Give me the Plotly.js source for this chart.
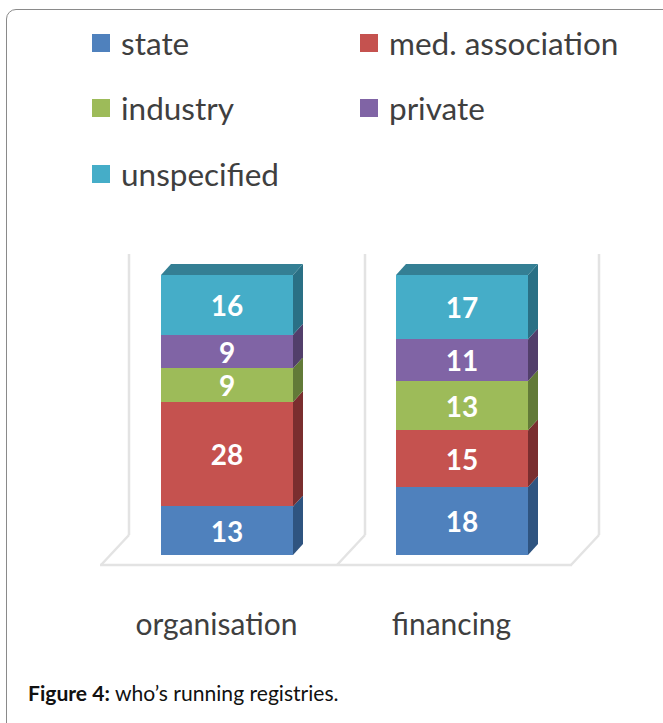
<!DOCTYPE html>
<html>
<head>
<meta charset="utf-8">
<script src="https://cdn.plot.ly/plotly-3.0.1.min.js"></script>
<style>
html,body{margin:0;padding:0;background:#fff;width:663px;height:723px;overflow:hidden}
#card{position:absolute;left:6px;top:9px;width:720px;height:800px;border:1.5px solid #8a8a8a;border-radius:10px;box-sizing:border-box}
#chart{position:absolute;left:0;top:0;width:663px;height:723px}
</style>
</head>
<body>
<div id="card"></div>
<div id="chart"></div>
<script>
const categories = ['organisation', 'financing'];
const seriesNames = ['state', 'med. association', 'industry', 'private', 'unspecified'];
const stateValues = [13, 18];
const medAssociationValues = [28, 15];
const industryValues = [9, 13];
const privateValues = [9, 11];
const unspecifiedValues = [16, 17];
const frontColors = ['#4F81BD', '#C5524F', '#9DBB59', '#8064A5', '#45ADC8'];
const sideColors = ['#2F5480', '#7A2E2F', '#627A38', '#523F6B', '#2A7085'];
const topColor = '#347F94';
const captionText = '<b>Figure 4:</b> who’s running registries.';

const allValues = [stateValues, medAssociationValues, industryValues, privateValues, unspecifiedValues];

const plot = {left: 90, right: 610, top: 245, bottom: 575};
const xUnit = 235, x0Px = 216.5, yUnit = 2.8, y0Px = 555;
const xPx = p => (p - x0Px) / xUnit;
const yPx = p => (y0Px - p) / yUnit;
const barWidth = 132 / xUnit, barShift = 10.5 / xUnit;
const depthX = 10 / xUnit, depthY = 11 / yUnit;

const font = 'Lato, Carlito, sans-serif';
const legendFont = {family: font, size: 31.5, color: '#3f3f3f'};

const traces = allValues.map((vals, i) => ({
  type: 'bar',
  name: seriesNames[i],
  x: [0, 1],
  y: vals,
  text: vals.map(String),
  textposition: 'inside',
  insidetextanchor: 'middle',
  constraintext: 'none',
  textangle: 0,
  textfont: {family: font, size: 28, color: '#ffffff', weight: 700},
  width: barWidth,
  offset: barShift - barWidth / 2,
  marker: {color: frontColors[i], line: {width: 0}},
  showlegend: false,
  legendgroup: seriesNames[i],
  hoverinfo: 'name+text'
}));

// Legend entries, one legend per slot so the two-column layout can be kept
const legendSlots = [[81, 43], [349, 43], [81, 108], [349, 108], [81, 174]];
const legends = {};
seriesNames.forEach((name, i) => {
  const id = i === 0 ? 'legend' : 'legend' + (i + 1);
  traces.push({
    type: 'scatter', mode: 'markers', name, x: [null], y: [null],
    legend: id,
    legendgroup: name,
    marker: {symbol: 'square', size: 16, color: frontColors[i], line: {width: 2, color: frontColors[i]}},
    showlegend: true, hoverinfo: 'skip'
  });
  legends[id] = {
    x: (legendSlots[i][0] - plot.left) / (plot.right - plot.left),
    y: (plot.bottom - legendSlots[i][1]) / (plot.bottom - plot.top),
    xanchor: 'left', yanchor: 'middle',
    bgcolor: 'rgba(0,0,0,0)', borderwidth: 0,
    font: legendFont, itemclick: false, itemdoubleclick: false
  };
});

// 3D faces derived from the stacked values
const shapes = [];
const wall = '#E3E3E3';
const line = (a, b, c, d) => shapes.push({type: 'line', xref: 'x', yref: 'y', layer: 'below',
  x0: xPx(a), y0: yPx(b), x1: xPx(c), y1: yPx(d), line: {color: wall, width: 2.5}});
[129, 365, 599].forEach(w => {
  line(w, 254, w, 535);
  line(w, 535, w - 28, 565);
});
line(100, 565, 572, 565);

categories.forEach((c, k) => {
  const total = allValues.reduce((s, v) => s + v[k], 0);
  const left = k + barShift - barWidth / 2, right = left + barWidth;
  let cum = 0;
  allValues.forEach((vals, i) => {
    const y0 = cum / total * 100;
    cum += vals[k];
    const y1 = cum / total * 100;
    shapes.push({type: 'path', xref: 'x', yref: 'y', layer: 'above', line: {width: 0}, fillcolor: sideColors[i],
      path: `M${right},${y0}L${right + depthX},${y0 + depthY}L${right + depthX},${y1 + depthY}L${right},${y1}Z`});
  });
  shapes.push({type: 'path', xref: 'x', yref: 'y', layer: 'above', line: {width: 0}, fillcolor: topColor,
    path: `M${left},100L${left + depthX},${100 + depthY}L${right + depthX},${100 + depthY}L${right},100Z`});
});

const layout = Object.assign({
  width: 663, height: 723,
  paper_bgcolor: 'rgba(0,0,0,0)', plot_bgcolor: 'rgba(0,0,0,0)',
  margin: {l: plot.left, r: 663 - plot.right, t: plot.top, b: 723 - plot.bottom, pad: 0, autoexpand: false},
  barmode: 'stack', barnorm: 'percent',
  xaxis: {
    type: 'linear', range: [xPx(plot.left), xPx(plot.right)], tickmode: 'array', tickvals: [0, 1], ticktext: categories,
    showgrid: false, zeroline: false, showline: false, ticks: '', ticklabelstandoff: 29,
    tickfont: {family: font, size: 30, color: '#3f3f3f'}
  },
  yaxis: {range: [yPx(plot.bottom), yPx(plot.top)], visible: false, showgrid: false, zeroline: false},
  shapes,
  annotations: [{
    xref: 'paper', yref: 'paper', xanchor: 'left', yanchor: 'middle', showarrow: false,
    x: (26 - plot.left) / (plot.right - plot.left), y: (plot.bottom - 692) / (plot.bottom - plot.top),
    text: captionText, font: {family: font, size: 21.1, color: '#111111'}
  }]
}, legends);

Plotly.newPlot('chart', traces, layout, {displayModeBar: false, staticPlot: false});
</script>
</body>
</html>
